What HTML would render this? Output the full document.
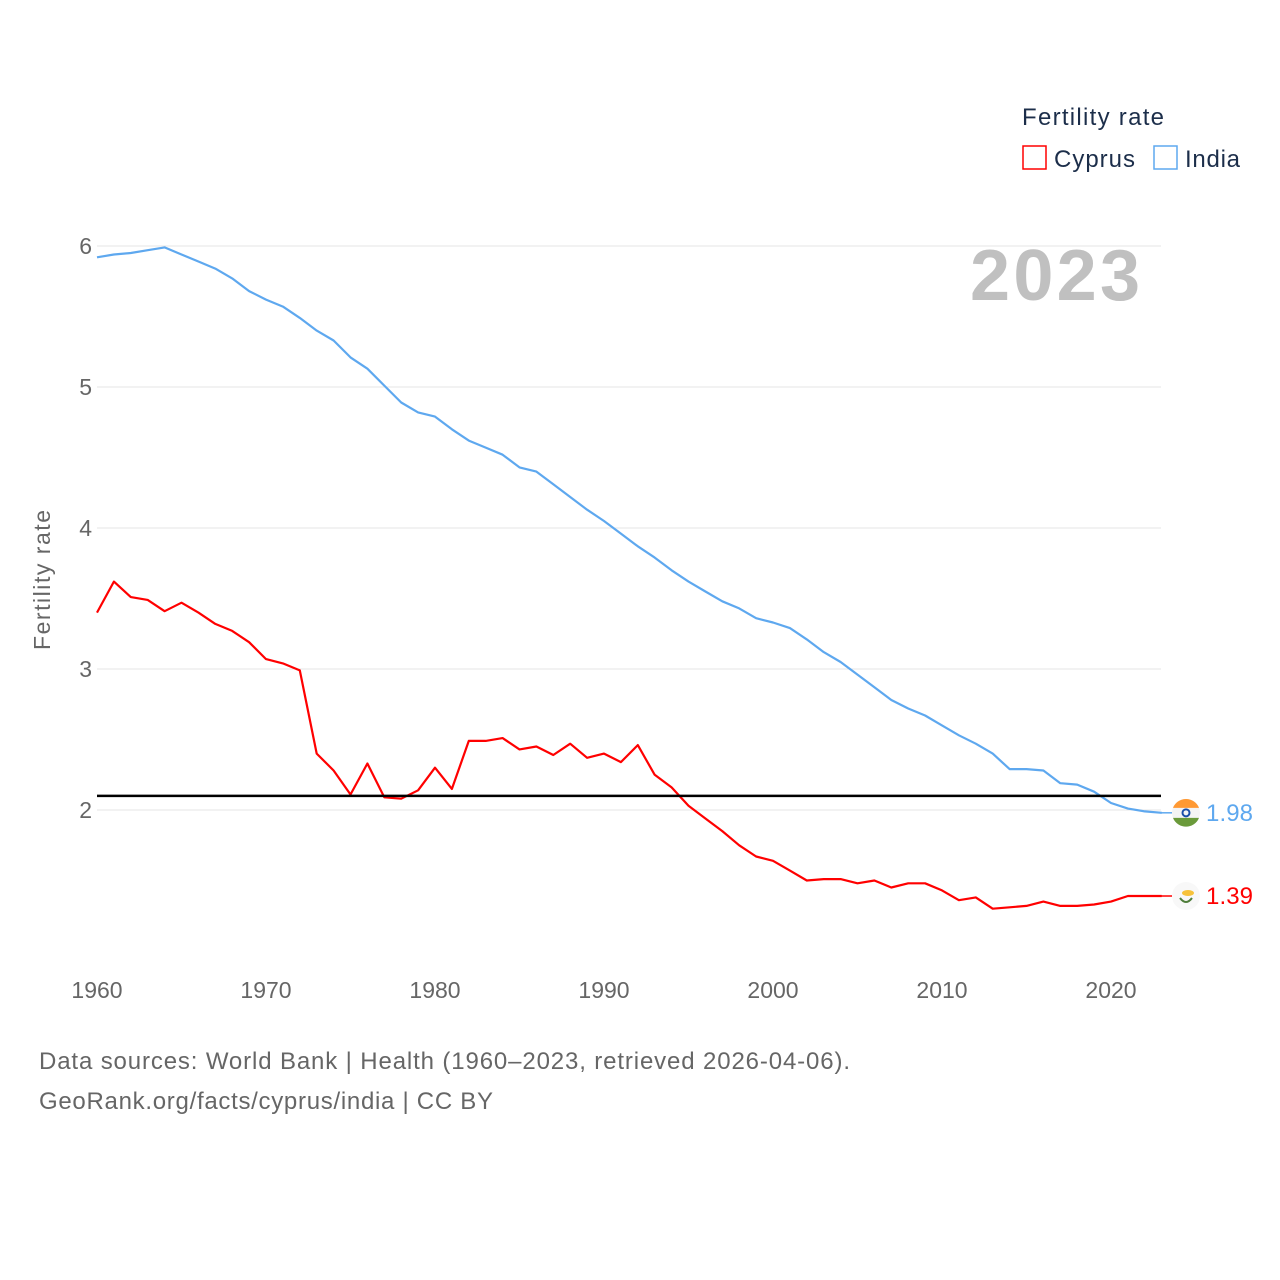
<!DOCTYPE html>
<html><head><meta charset="utf-8"><style>
html,body{margin:0;padding:0;background:#fff;}
body{width:1280px;height:1280px;position:relative;overflow:hidden;font-family:"Liberation Sans",sans-serif;}
</style></head><body>
<svg id="chart" width="1280" height="1280" xmlns="http://www.w3.org/2000/svg" style="position:absolute;left:0;top:0"></svg>
<script>
const years = [];
for (let y = 1960; y <= 2023; y++) years.push(y);
const cyprusValues = [3.40,3.62,3.51,3.49,3.41,3.47,3.40,3.32,3.27,3.19,3.07,3.04,2.99,2.40,2.28,2.11,2.33,2.09,2.08,2.14,2.30,2.15,2.49,2.49,2.51,2.43,2.45,2.39,2.47,2.37,2.40,2.34,2.46,2.25,2.16,2.03,1.94,1.85,1.75,1.67,1.64,1.57,1.50,1.51,1.51,1.48,1.50,1.45,1.48,1.48,1.43,1.36,1.38,1.30,1.31,1.32,1.35,1.32,1.32,1.33,1.35,1.39,1.39,1.39];
const indiaValues = [5.92,5.94,5.95,5.97,5.99,5.94,5.89,5.84,5.77,5.68,5.62,5.57,5.49,5.40,5.33,5.21,5.13,5.01,4.89,4.82,4.79,4.70,4.62,4.57,4.52,4.43,4.40,4.31,4.22,4.13,4.05,3.96,3.87,3.79,3.70,3.62,3.55,3.48,3.43,3.36,3.33,3.29,3.21,3.12,3.05,2.96,2.87,2.78,2.72,2.67,2.60,2.53,2.47,2.40,2.29,2.29,2.28,2.19,2.18,2.13,2.05,2.01,1.99,1.98];
const yTicks = [2,3,4,5,6];
const xTicks = [1960,1970,1980,1990,2000,2010,2020];
const referenceValue = 2.1;

const svg = document.getElementById('chart');
const NS = 'http://www.w3.org/2000/svg';
function xS(yr){ return 97 + (yr - 1960) * (1014/60); }
function yS(v){ return 810 - (v - 2) * 141; }
function mk(tag, attrs, text){
  const e = document.createElementNS(NS, tag);
  for (const k in attrs) e.setAttribute(k, attrs[k]);
  if (text !== undefined) e.textContent = text;
  svg.appendChild(e);
  return e;
}
const F = '"Liberation Sans", sans-serif';

yTicks.forEach(t => {
  const g = mk('line', {x1:97, x2:1161, y1:yS(t), y2:yS(t), stroke:'#e6e6e6', 'stroke-width':1});
  
  
  const l = mk('text', {x:92, y:yS(t)+8, 'text-anchor':'end', 'font-size':23, fill:'#666', 'font-family':F}, t);
  
  
});
xTicks.forEach(t => {
  const l = mk('text', {x:xS(t), y:998, 'text-anchor':'middle', 'font-size':23, fill:'#666', 'font-family':F}, t);
  
  
});

const yt = mk('text', {x:0, y:0, transform:'translate(50,580) rotate(-90)', 'text-anchor':'middle', 'font-size':23, fill:'#666', 'font-family':F, textLength:140}, 'Fertility rate');



const yr = mk('text', {x:970, y:300, 'font-size':72, 'font-weight':'bold', fill:'#c0c0c0', 'font-family':F, textLength:170}, '2023');



function pathFor(vals){ return vals.map((v,i)=>(i?'L':'M')+xS(years[i]).toFixed(1)+','+yS(v).toFixed(1)).join(' '); }
const pi = mk('path', {d:pathFor(indiaValues), fill:'none', stroke:'#5ea8ef', 'stroke-width':2.2, 'stroke-linejoin':'round'});


const pc = mk('path', {d:pathFor(cyprusValues), fill:'none', stroke:'#ff0000', 'stroke-width':2.2, 'stroke-linejoin':'round'});



const rl = mk('line', {x1:97, x2:1161, y1:yS(referenceValue), y2:yS(referenceValue), stroke:'#000', 'stroke-width':2.5});



const lastI = indiaValues[indiaValues.length-1], lastC = cyprusValues[cyprusValues.length-1];
const iy = yS(lastI), cy = yS(lastC);
mk('line', {x1:1161, x2:1172, y1:iy, y2:iy, stroke:'#5ea8ef', 'stroke-width':1.5});
mk('line', {x1:1161, x2:1172, y1:cy, y2:cy, stroke:'#ff0000', 'stroke-width':1.5});
const f1 = mk('circle', {cx:1186, cy:iy, r:14, fill:'#f4f4f4'});


mk('path', {d:`M1173,${iy-5} A14,14 0 0 1 1199,${iy-5} Z`, fill:'#ff9933'});
mk('path', {d:`M1173,${iy+5} L1199,${iy+5} A14,14 0 0 1 1173,${iy+5} Z`, fill:'#6a9a3a'});
mk('circle', {cx:1186, cy:iy, r:3.5, fill:'none', stroke:'#1a4fa8', 'stroke-width':2});
const f2 = mk('circle', {cx:1186, cy:cy, r:14, fill:'#f8f8f8'});


mk('ellipse', {cx:1188, cy:cy-3, rx:6, ry:3, fill:'#f7c23a'});
mk('path', {d:`M1180,${cy+2} Q1186,${cy+10} 1192,${cy+2}`, fill:'none', stroke:'#4e7d3a', 'stroke-width':2});
const li = mk('text', {x:1206, y:iy+8, 'font-size':24, fill:'#5ea8ef', 'font-family':F, textLength:47}, lastI.toFixed(2));


const lc = mk('text', {x:1206, y:cy+8, 'font-size':24, fill:'#ff0000', 'font-family':F, textLength:47}, lastC.toFixed(2));



const lt = mk('text', {x:1022, y:125, 'font-size':24, fill:'#1c2e4a', 'font-family':F, textLength:142}, 'Fertility rate');


const r1 = mk('rect', {x:1023, y:146, width:23, height:23, fill:'none', stroke:'#ff0000', 'stroke-width':1.5});


const t1 = mk('text', {x:1054, y:167, 'font-size':24, fill:'#1c2e4a', 'font-family':F, textLength:81}, 'Cyprus');


const r2 = mk('rect', {x:1154, y:146, width:23, height:23, fill:'none', stroke:'#5ea8ef', 'stroke-width':1.5});


const t2 = mk('text', {x:1185, y:167, 'font-size':24, fill:'#1c2e4a', 'font-family':F, textLength:55}, 'India');



const s1 = mk('text', {x:39, y:1069, 'font-size':24, fill:'#666', 'font-family':F, textLength:811}, 'Data sources: World Bank | Health (1960–2023, retrieved 2026-04-06).');


const s2 = mk('text', {x:39, y:1109, 'font-size':24, fill:'#666', 'font-family':F, textLength:454}, 'GeoRank.org/facts/cyprus/india | CC BY');


</script>
</body></html>
